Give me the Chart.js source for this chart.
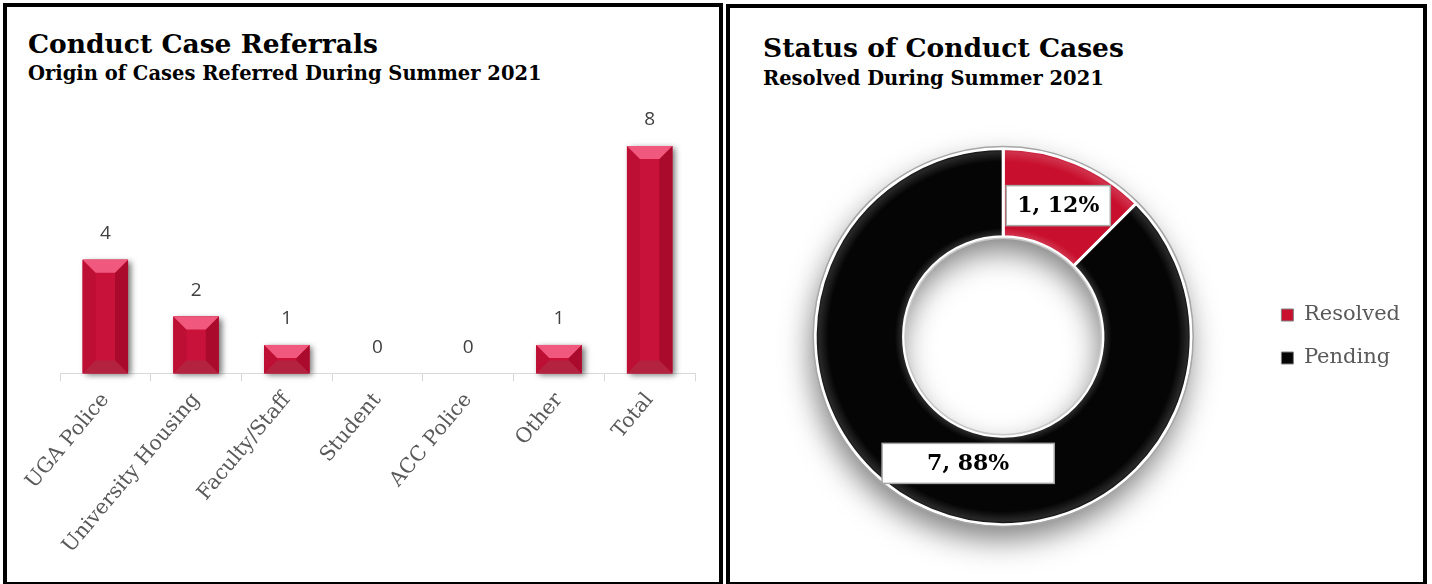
<!DOCTYPE html>
<html>
<head>
<meta charset="utf-8">
<script src="https://cdn.jsdelivr.net/npm/chart.js@4.4.1/dist/chart.umd.min.js"></script>
<style>
  html, body { margin: 0; padding: 0; background: #fff; }
  body { width: 1432px; height: 584px; position: relative; overflow: hidden; }
  .panel { position: absolute; box-sizing: border-box; border: 4px solid #000; }
  .title { position: absolute; font-family: "DejaVu Serif", serif; font-weight: bold; color: #000; line-height: 1; white-space: nowrap; }
  .t1 { font-size: 26.5px; }
  .t2 { font-size: 19.5px; }
  .box { position: absolute; }
</style>
</head>
<body>
<div class="panel" style="left:3px; top:3px; width:720px; height:583px;"></div>
<div class="panel" style="left:726px; top:4px; width:701px; height:582px;"></div>

<div class="title t1" style="left:28px; top:31px;">Conduct Case Referrals</div>
<div class="title t2" style="left:28px; top:64px;">Origin of Cases Referred During Summer 2021</div>
<div class="title t1" style="left:763px; top:35px;">Status of Conduct Cases</div>
<div class="title t2" style="left:763px; top:69px;">Resolved During Summer 2021</div>

<div class="box" style="left:7px; top:90px; width:712px; height:494px;"><canvas id="referralChart"></canvas></div>
<div class="box" style="left:730px; top:100px; width:693px; height:484px;"><canvas id="statusChart"></canvas></div>

<script>
// data
const categories = ['UGA Police', 'University Housing', 'Faculty/Staff', 'Student', 'ACC Police', 'Other', 'Total'];
const referrals = [4, 2, 1, 0, 0, 1, 8];

const statusLabels = ['Resolved', 'Pending'];
const statusCounts = [1, 7];
const statusPercents = [12, 88];

const serif = '"DejaVu Serif", "Liberation Serif", serif';

// bevelled bars + value labels
const bevelBars = {
  id: 'bevelBars',
  beforeDatasetsDraw(chart) {
    const ctx = chart.ctx;
    chart.getDatasetMeta(0).data.forEach(bar => {
      const p = bar.getProps(['x', 'y', 'base', 'width'], true);
      const h = p.base - p.y;
      if (h <= 0) return;
      ctx.save();
      ctx.shadowColor = 'rgba(0,0,0,0.55)';
      ctx.shadowBlur = 6;
      ctx.shadowOffsetX = 3;
      ctx.shadowOffsetY = 2;
      ctx.fillStyle = '#c8123a';
      ctx.fillRect(p.x - p.width / 2, p.y, p.width, h);
      ctx.restore();
    });
  },
  afterDatasetsDraw(chart) {
    const ctx = chart.ctx;
    const meta = chart.getDatasetMeta(0);
    meta.data.forEach((bar, i) => {
      const p = bar.getProps(['x', 'y', 'base', 'width'], true);
      const h = p.base - p.y;
      const l = p.x - p.width / 2, r = p.x + p.width / 2, t = p.y, bt = p.base;
      if (h > 0) {
        const b = Math.min(13, h / 2, p.width / 3);
        const face = (pts, col) => {
          ctx.beginPath();
          ctx.moveTo(pts[0][0], pts[0][1]);
          pts.slice(1).forEach(q => ctx.lineTo(q[0], q[1]));
          ctx.closePath();
          ctx.fillStyle = col;
          ctx.fill();
        };
        face([[l, t], [l + b, t + b], [l + b, bt - b], [l, bt]], '#bd0e33');
        face([[r, t], [r - b, t + b], [r - b, bt - b], [r, bt]], '#aa0b2c');
        face([[l, bt], [r, bt], [r - b, bt - b], [l + b, bt - b]], '#b3233f');
        face([[l, t], [r, t], [r - b, t + b], [l + b, t + b]], '#f1587e');
      }
      ctx.save();
      ctx.fillStyle = '#404040';
      ctx.font = '19px "Open Sans", "Liberation Sans", sans-serif';
      ctx.textAlign = 'center';
      ctx.textBaseline = 'middle';
      ctx.fillText(String(referrals[i]), p.x, p.y - 26);
      ctx.restore();
    });
  }
};

new Chart(document.getElementById('referralChart'), {
  type: 'bar',
  data: {
    labels: categories,
    datasets: [{
      data: referrals,
      backgroundColor: '#c8123a',
      categoryPercentage: 0.5,
      barPercentage: 1
    }]
  },
  options: {
    responsive: true,
    maintainAspectRatio: false,
    animation: false,
    layout: { padding: { left: 53, right: 24, top: 56, bottom: 19 } },
    plugins: { legend: { display: false }, tooltip: { enabled: false } },
    scales: {
      y: { display: false, min: 0, max: 8 },
      x: {
        border: { color: '#d9d9d9', width: 1 },
        grid: { display: true, drawOnChartArea: false, color: '#d9d9d9', tickLength: 8, offset: true },
        ticks: {
          autoSkip: false,
          minRotation: 50,
          maxRotation: 50,
          padding: 7,
          color: '#595959',
          font: { family: serif, size: 20.5 }
        }
      }
    }
  },
  plugins: [bevelBars]
});

// ring shadow, rim and the boxed labels
const ringDecor = {
  id: 'ringDecor',
  beforeDatasetsDraw(chart) {
    const ctx = chart.ctx;
    const a = chart.getDatasetMeta(0).data[0];
    const p = a.getProps(['x', 'y', 'outerRadius', 'innerRadius'], true);
    ctx.save();
    ctx.shadowColor = 'rgba(0,0,0,0.5)';
    ctx.shadowBlur = 30;
    ctx.shadowOffsetX = -3;
    ctx.shadowOffsetY = 14;
    ctx.beginPath();
    ctx.arc(p.x, p.y, p.outerRadius + 1, 0, Math.PI * 2);
    ctx.arc(p.x, p.y, p.innerRadius, 0, Math.PI * 2, true);
    ctx.fillStyle = '#fff';
    ctx.fill();
    ctx.restore();
  },
  afterDatasetsDraw(chart) {
    const ctx = chart.ctx;
    const arcs = chart.getDatasetMeta(0).data;
    const p = arcs[0].getProps(['x', 'y', 'outerRadius', 'innerRadius'], true);
    ctx.save();
    // soft highlights near the rims
    const g = ctx.createRadialGradient(p.x, p.y, p.innerRadius, p.x, p.y, p.outerRadius);
    g.addColorStop(0, 'rgba(255,255,255,0.18)');
    g.addColorStop(0.1, 'rgba(255,255,255,0)');
    g.addColorStop(0.85, 'rgba(255,255,255,0)');
    g.addColorStop(0.96, 'rgba(255,255,255,0.14)');
    g.addColorStop(1, 'rgba(255,255,255,0)');
    ctx.beginPath();
    ctx.arc(p.x, p.y, p.outerRadius, 0, Math.PI * 2);
    ctx.arc(p.x, p.y, p.innerRadius, 0, Math.PI * 2, true);
    ctx.fillStyle = g;
    ctx.fill();
    ctx.lineWidth = 1.5;
    ctx.strokeStyle = '#a6a6a6';
    ctx.beginPath();
    ctx.arc(p.x, p.y, p.outerRadius + 2, 0, Math.PI * 2);
    ctx.stroke();
    ctx.strokeStyle = '#c8c8c8';
    ctx.beginPath();
    ctx.arc(p.x, p.y, p.innerRadius - 1.5, 0, Math.PI * 2);
    ctx.stroke();

    // label boxes: horizontal padding and a small best-fit nudge per label
    const padX = [11, 45];
    const nudge = [[0, 2], [20, -6]];
    ctx.font = 'bold 22px ' + serif;
    ctx.textAlign = 'center';
    ctx.textBaseline = 'middle';
    arcs.forEach((arc, i) => {
      const pos = arc.tooltipPosition(true);
      const cx = pos.x + nudge[i][0], cy = pos.y + nudge[i][1];
      const txt = statusCounts[i] + ', ' + statusPercents[i] + '%';
      const w = ctx.measureText(txt).width + padX[i] * 2;
      const h = 40;
      ctx.fillStyle = '#fff';
      ctx.fillRect(cx - w / 2, cy - h / 2, w, h);
      ctx.strokeStyle = '#a6a6a6';
      ctx.lineWidth = 1.5;
      ctx.strokeRect(cx - w / 2, cy - h / 2, w, h);
      ctx.fillStyle = '#000';
      ctx.fillText(txt, cx, cy + 1);
    });
    ctx.restore();
  }
};

new Chart(document.getElementById('statusChart'), {
  type: 'doughnut',
  data: {
    labels: statusLabels,
    datasets: [{
      data: statusCounts,
      backgroundColor: ['#c8102e', '#050505'],
      borderColor: '#ffffff',
      borderWidth: 3,
      hoverOffset: 0
    }]
  },
  options: {
    responsive: true,
    maintainAspectRatio: false,
    animation: false,
    cutout: '53%',
    layout: { padding: { left: 17, right: 13, top: 47, bottom: 58 } },
    plugins: {
      tooltip: { enabled: false },
      legend: {
        position: 'right',
        align: 'center',
        labels: {
          boxWidth: 12,
          boxHeight: 12,
          padding: 22,
          color: '#595959',
          font: { family: serif, size: 21 },
          generateLabels(chart) {
            return Chart.overrides.doughnut.plugins.legend.labels.generateLabels(chart)
              .map(item => Object.assign(item, { strokeStyle: '#808080', lineWidth: 1 }));
          }
        }
      }
    }
  },
  plugins: [ringDecor]
});
</script>
</body>
</html>
